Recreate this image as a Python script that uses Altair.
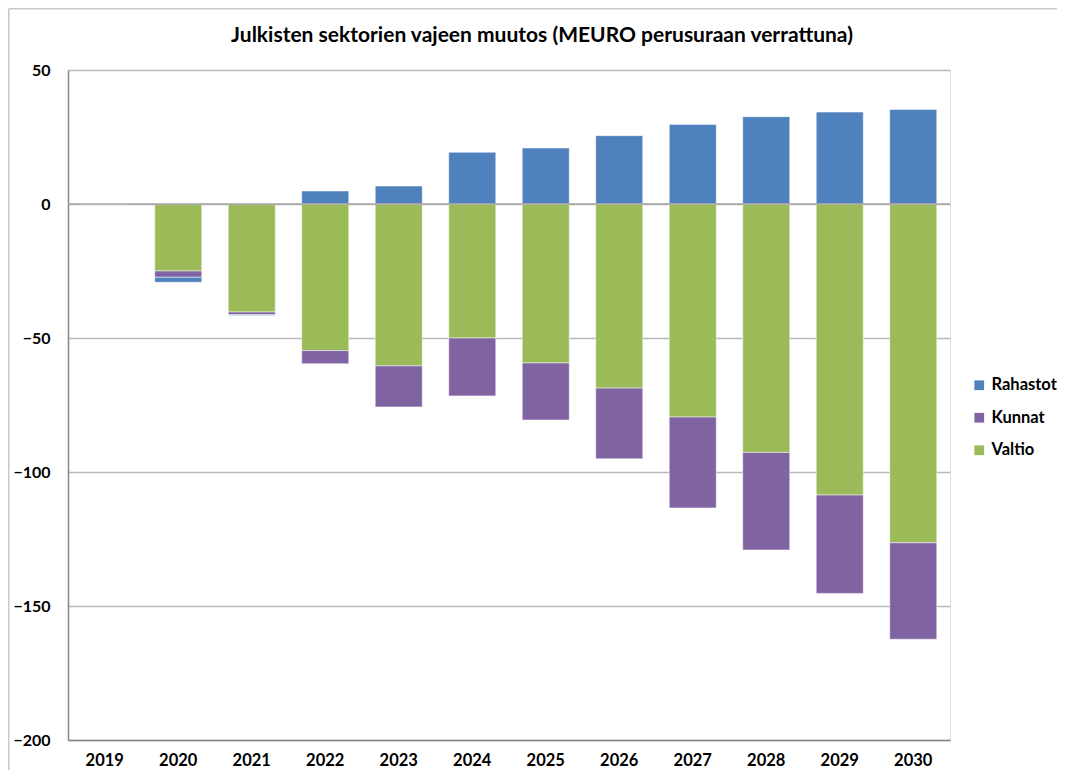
import altair as alt
import pandas as pd

years = ["2019", "2020", "2021", "2022", "2023", "2024", "2025", "2026", "2027", "2028", "2029", "2030"]
valtio = [0, -25.0, -40.3, -54.7, -60.4, -50.0, -59.3, -68.7, -79.5, -92.7, -108.6, -126.4]
kunnat = [0, -2.35, -1.0, -4.9, -15.3, -21.6, -21.3, -26.4, -33.9, -36.4, -36.7, -36.0]
rahastot = [0, -1.85, -0.3, 4.85, 6.7, 19.3, 20.9, 25.5, 29.7, 32.6, 34.3, 35.3]

series_names = ["Rahastot", "Kunnat", "Valtio"]
series_colors = ["#4F81BD", "#8064A2", "#9BBB59"]
stack_order = {"Valtio": 0, "Kunnat": 1, "Rahastot": 2}
y_ticks = [-200, -150, -100, -50, 0, 50]
title_text = "Julkisten sektorien vajeen muutos (MEURO perusuraan verrattuna)"

rows = []
for i, y in enumerate(years):
    for name, vals in (("Valtio", valtio), ("Kunnat", kunnat), ("Rahastot", rahastot)):
        rows.append({"Vuosi": y, "Sektori": name, "Arvo": vals[i], "ord": stack_order[name]})
df = pd.DataFrame(rows)

FONT = "Lato"

bars = alt.Chart(df).mark_bar(stroke="white", strokeWidth=1, strokeOpacity=0.5).encode(
    x=alt.X("Vuosi:N", sort=years,
            scale=alt.Scale(paddingInner=0.36, paddingOuter=0.18),
            axis=alt.Axis(title=None, labelAngle=0, ticks=False, domain=True,
                          domainColor="#868686", domainWidth=1.5,
                          labelPadding=12, labelFontSize=16.5, labelFont=FONT,
                          labelFontWeight="bold", labelColor="black", grid=False)),
    y=alt.Y("Arvo:Q", stack="zero",
            scale=alt.Scale(domain=[-200, 50], nice=False, zero=False),
            axis=alt.Axis(title=None, values=y_ticks, ticks=False, domain=True,
                          domainColor="#868686", domainWidth=1.5,
                          labelPadding=18, labelFontSize=16, labelFont=FONT,
                          labelFontWeight="bold", labelColor="black",
                          grid=True, gridColor="#b8b8b8", gridWidth=1.5)),
    color=alt.Color("Sektori:N",
                    scale=alt.Scale(domain=series_names, range=series_colors),
                    legend=alt.Legend(title=None, orient="none", legendX=903, legendY=307,
                                      symbolType="square", symbolSize=95, symbolStrokeWidth=0,
                                      labelFont=FONT, labelFontSize=16.5, labelFontWeight="bold",
                                      labelColor="black", rowPadding=15.5, labelOffset=4)),
    order=alt.Order("ord:Q", sort="ascending"),
)

one = pd.DataFrame({"a": [0]})
zero_line = alt.Chart(one).mark_rule(color="#a6a6a6", strokeWidth=1.5).encode(
    y=alt.datum(0), x=alt.value(0), x2=alt.value(882)
)
border_left = alt.Chart(one).mark_rule(color="#c8c8c8", strokeWidth=1.5).encode(
    x=alt.value(-59.2), y=alt.value(-61.2), y2=alt.value(720)
)
border_top = alt.Chart(one).mark_rule(color="#c8c8c8", strokeWidth=1.5).encode(
    y=alt.value(-61.2), x=alt.value(-59.2), x2=alt.value(1000)
)
title_df = pd.DataFrame({"t": [title_text]})
title_mark = alt.Chart(title_df).mark_text(
    font=FONT, fontSize=21, fontWeight="bold", color="black",
    align="center", baseline="middle"
).encode(text="t:N", x=alt.value(474), y=alt.value(-34))

chart = alt.layer(bars, zero_line, border_left, border_top, title_mark).properties(
    width=882, height=670,
    autosize=alt.AutoSizeParams(type="none"),
    padding={"left": 60, "top": 62, "right": 107, "bottom": 30},
).configure_view(stroke=None).configure(background="white")

chart.save("out.html", embed_options={"renderer": "svg", "actions": False})
